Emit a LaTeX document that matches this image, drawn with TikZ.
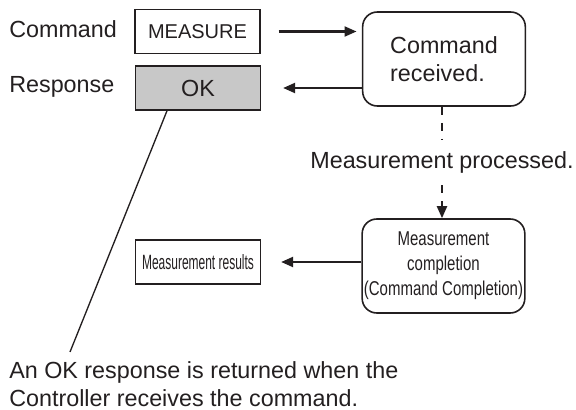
\documentclass[tikz,border=0pt]{standalone}
\usepackage{fontspec}
\setmainfont{Liberation Sans}
\usepackage{graphicx}
\usetikzlibrary{positioning, arrows.meta}

\definecolor{ink}{RGB}{35,31,32}
\definecolor{okgray}{RGB}{200,200,200}
\newcommand{\narrowtext}[2]{\scalebox{#1}[1]{#2}}

\begin{document}
\begin{tikzpicture}[
    x=0.75pt, y=-0.75pt,
    font=\fontsize{17.5}{20.5}\selectfont,
    box/.style={rectangle, draw=ink, line width=1.2pt, minimum width=93.5pt, minimum height=33pt, inner sep=0pt, text=ink},
    rbox/.style={box, rounded corners=11pt, minimum width=122pt, minimum height=70.5pt},
    arr/.style={-{Triangle[length=9pt, width=7.5pt]}, line width=1.6pt, ink},
    dashline/.style={ink, line width=1.6pt, dash pattern=on 6pt off 6pt},
    lbl/.style={inner sep=0pt, text=ink}
]
\useasboundingbox (0,0) rectangle (576,410);

% Command and response
\node[lbl, anchor=base west] (cmdlbl) at (9,38) {Command};
\node[lbl, anchor=base west] (resplbl) at (9,93) {Response};
\node[box, font=\fontsize{15}{18}\selectfont] (measure) at (197.5,31.5) {MEASURE};
\node[box, fill=okgray] (ok) at (198,88) {OK};

% Controller side
\node[rbox, align=left] (recv) at (444,59) {Command\\received.};
\node[lbl, fill=white, inner ysep=9pt] (proc) at (442,162) {Measurement processed.};
\node[rbox] (compl) at (443.5,266) {\narrowtext{0.75}{\fontsize{15}{18.75}\selectfont
    \begin{tabular}{@{}c@{}}Measurement\\completion\\(Command Completion)\end{tabular}}};
\node[box] (results) at (198,262) {\narrowtext{0.58}{\fontsize{15.5}{17}\selectfont Measurement results}};

% Arrows
\draw[arr, shorten <=13.5pt, shorten >=4pt] (measure.east) -- (measure.east -| recv.west);
\draw[arr, shorten >=16.5pt] (recv.west |- ok) -- (ok.east);
\draw[dashline] (recv.south -| proc) -- (proc.north);
\draw[arr, dash pattern=on 6pt off 6pt] (proc.south) -- (proc.south |- compl.north);
\draw[arr, shorten >=15pt] (compl.west |- results) -- (results.east);

% Note
\coordinate (tip) at (70,352);
\draw[ink, line width=1pt] ([xshift=-23.25pt]ok.south) -- (tip);
\node[lbl, anchor=north west, align=left, font=\fontsize{17.5}{21}\selectfont] (note) at (9,361)
    {An OK response is returned when the\\Controller receives the command.};

\end{tikzpicture}
\end{document}
